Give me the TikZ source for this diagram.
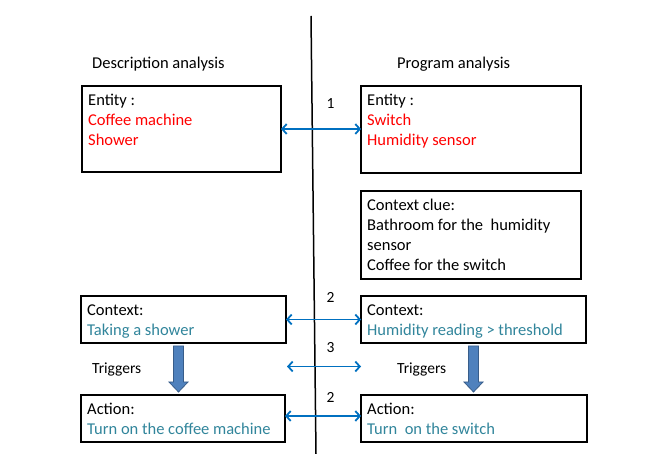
\documentclass[tikz,border=0pt]{standalone}
\usepackage{fontspec}
\setmainfont{Carlito}
\usetikzlibrary{arrows.meta}
\definecolor{ered}{RGB}{255,0,0}
\definecolor{eteal}{RGB}{49,133,155}
\definecolor{ablue}{RGB}{0,112,192}
\definecolor{bfill}{RGB}{79,129,189}
\definecolor{bdraw}{RGB}{56,93,138}
\begin{document}
\begin{tikzpicture}[x=1pt,y=-1pt,
  box/.style={draw=black,line width=1.6pt,anchor=north west,inner sep=0pt,outer sep=0pt},
  txt/.style={anchor=base west,align=left,inner sep=0pt,font=\fontsize{16.5}{20}\selectfont},
  lbl/.style={anchor=base,inner sep=0pt,font=\fontsize{15.5}{18}\selectfont},
  link/.style={draw=ablue,line width=1.8pt,{Straight Barb[length=4.5pt,width=10pt]}-{Straight Barb[length=4.5pt,width=10pt]}},
  blockarrow/.style={fill=bfill,draw=bdraw,line width=0.8pt}]
\useasboundingbox (0,0) rectangle (646,454);

% divider
\coordinate (vtop) at (311,16);
\coordinate (vbot) at (316,454);
\draw[line width=1.5pt] (vtop) -- (vbot);

% headers
\node[txt] (hdrL) at (92,69) {Description analysis};
\node[txt] (hdrR) at (397,69) {Program analysis};

% boxes
\node[box,minimum width=199pt,minimum height=86pt] (entL) at (82,86) {};
\node[box,minimum width=220pt,minimum height=87pt] (entR) at (361,86) {};
\node[box,minimum width=220pt,minimum height=88pt] (clue) at (361,191) {};
\node[box,minimum width=205pt,minimum height=47pt] (ctxL) at (81,296) {};
\node[box,minimum width=225pt,minimum height=47pt] (ctxR) at (361,296) {};
\node[box,minimum width=204pt,minimum height=47pt] (actL) at (81,395) {};
\node[box,minimum width=226pt,minimum height=47pt] (actR) at (361,395) {};

% box texts (base anchor = baseline of the last line)
\node[txt] (entLt) at ([shift={(6,60)}]entL.north west) {Entity :\\\textcolor{ered}{Coffee machine}\\\textcolor{ered}{Shower}};
\node[txt] (entRt) at ([shift={(6,60)}]entR.north west) {Entity :\\\textcolor{ered}{Switch}\\\textcolor{ered}{Humidity sensor}};
\node[txt] (cluet) at ([shift={(6,80)}]clue.north west) {Context clue:\\Bathroom for the\ \ humidity\\sensor\\Coffee for the switch};
\node[txt] (ctxLt) at ([shift={(6,40)}]ctxL.north west) {Context:\\\textcolor{eteal}{Taking a shower}};
\node[txt] (ctxRt) at ([shift={(6,40)}]ctxR.north west) {Context:\\\textcolor{eteal}{Humidity reading > threshold}};
\node[txt] (actLt) at ([shift={(6,40)}]actL.north west) {Action:\\\textcolor{eteal}{Turn on the coffee machine}};
\node[txt] (actRt) at ([shift={(6,40)}]actR.north west) {Action:\\\textcolor{eteal}{Turn\ \ on the switch}};

% links
\draw[link] (entL.east) -- (entL.east -| entR.west);
\draw[link] (ctxL.east) -- (ctxL.east -| ctxR.west);
\coordinate (a3l) at (287,366.5);
\coordinate (a3r) at (361,366.5);
\draw[link] (a3l) -- (a3r);
\draw[link] ([yshift=2.5pt]actL.east) -- ([yshift=2.5pt]actL.east -| actR.west);

% link labels
\node[lbl] (n1) at (330.5,109) {1};
\node[lbl] (n2a) at (330.5,303) {2};
\node[lbl] (n3) at (330.5,353) {3};
\node[lbl] (n2b) at (330.5,403) {2};

% triggers
\node[lbl,anchor=base west] (trL) at (92,373.5) {Triggers};
\node[lbl,anchor=base west] (trR) at (397,373.5) {Triggers};

% block arrows
\foreach \cx in {178.5,473.5}{
  \draw[blockarrow] (\cx-5,346) -- (\cx+5,346) -- (\cx+5,382) -- (\cx+9.5,382) -- (\cx,392) -- (\cx-9.5,382) -- (\cx-5,382) -- cycle;
}
\end{tikzpicture}
\end{document}
